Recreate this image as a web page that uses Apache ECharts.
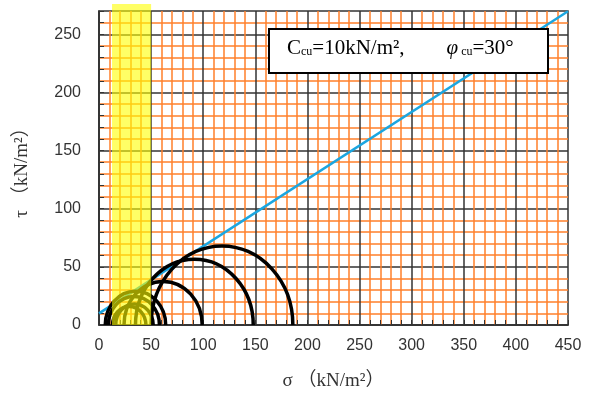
<!DOCTYPE html>
<html>
<head>
<meta charset="utf-8">
<script src="https://cdn.jsdelivr.net/npm/echarts@6/dist/echarts.min.js"></script>
<style>html,body{margin:0;padding:0;background:#fff}#c{width:593px;height:396px}</style>
</head>
<body>
<div id="c"></div>
<script>
// Mohr circles: left foot (sigma3) and right foot (sigma1), kN/m2
var sigma3 = [6, 9, 13, 16, 24, 35, 50];
var sigma1 = [64, 58, 45, 52, 99, 148, 186];
// Failure envelope tau = c + sigma*tan(phi), c=10, phi=30
var envelope = [[0, 10], [450, 269.8]];
// Highlighted sigma band
var bandSigma = [12.5, 50];
var bandTau = [0, 276];
var xTicks = [0, 50, 100, 150, 200, 250, 300, 350, 400, 450];
var yTicks = [0, 50, 100, 150, 200, 250];

var circles = sigma3.map(function (s, i) { return [s, sigma1[i]]; });
var ORANGE = '#ff7f2a';
var gridColors = ['#333', ORANGE, ORANGE, ORANGE, ORANGE];
var NAMEFONT = '"Liberation Serif", "Noto Sans CJK JP", serif';

var chart = echarts.init(document.getElementById('c'), null, {renderer: 'canvas'});
chart.setOption({
  animation: false,
  backgroundColor: '#fff',
  grid: {left: 99, right: 25, top: 11, bottom: 71, show: true, borderColor: '#333', borderWidth: 1.5, backgroundColor: 'transparent'},
  xAxis: {
    type: 'value', min: 0, max: 450, interval: 10,
    name: 'σ （kN/m²）', nameLocation: 'middle', nameGap: 47,
    nameTextStyle: {fontFamily: NAMEFONT, fontSize: 19, color: '#333'},
    axisLine: {show: true, lineStyle: {color: '#333', width: 1.5}},
    axisTick: {show: true, inside: true, length: 5, lineStyle: {color: '#333'}},
    axisLabel: {color: '#333', fontFamily: 'Liberation Sans', fontSize: 16, margin: 13,
      formatter: function (v) { return xTicks.indexOf(v) >= 0 ? String(v) : ''; }},
    splitLine: {show: true, showMaxLine: false, lineStyle: {color: gridColors, width: 1.5}}
  },
  yAxis: {
    type: 'value', min: 0, max: 270, interval: 10,
    name: 'τ （kN/m²）', nameLocation: 'middle', nameGap: 67, nameRotate: 90,
    nameTextStyle: {fontFamily: NAMEFONT, fontSize: 19, color: '#333'},
    axisLine: {show: true, lineStyle: {color: '#333', width: 1.5}},
    axisTick: {show: true, inside: true, length: 5, lineStyle: {color: '#333'}},
    axisLabel: {color: '#333', fontFamily: 'Liberation Sans', fontSize: 16, margin: 18,
      formatter: function (v) { return yTicks.indexOf(v) >= 0 ? String(v) : ''; }},
    splitLine: {show: true, showMaxLine: false, lineStyle: {color: gridColors, width: 1.5}}
  },
  series: [
    {
      type: 'line', data: envelope, symbol: 'none', z: 3,
      lineStyle: {color: '#1ba6e0', width: 2.5}
    },
    {
      type: 'custom', z: 4, data: circles, clip: true,
      renderItem: function (params, api) {
        var a = api.value(0), b = api.value(1);
        var c = (a + b) / 2, r = (b - a) / 2;
        var p = api.coord([c, 0]);
        var s = api.size([r, r]);
        var rx = s[0], ry = s[1];
        return {
          type: 'path',
          shape: {pathData: 'M ' + (p[0] - rx) + ' ' + p[1] + ' A ' + rx + ' ' + ry + ' 0 0 1 ' + (p[0] + rx) + ' ' + p[1]},
          style: {fill: null, stroke: '#000', lineWidth: 3.5}
        };
      }
    },
    {
      type: 'custom', z: 10, data: [[bandSigma[0], bandSigma[1], bandTau[0], bandTau[1]]], clip: false,
      renderItem: function (params, api) {
        var p0 = api.coord([api.value(0), api.value(3)]);
        var p1 = api.coord([api.value(1), api.value(2)]);
        return {
          type: 'rect',
          shape: {x: p0[0], y: p0[1], width: p1[0] - p0[0], height: p1[1] - p0[1]},
          style: {fill: 'rgba(255,255,0,0.6)'}
        };
      }
    }
  ],
  graphic: [
    {type: 'rect', left: 268, top: 28, z: 20, shape: {width: 279, height: 44},
      style: {fill: '#fff', stroke: '#000', lineWidth: 2}},
    {type: 'text', left: 287, top: 38, z: 21,
      style: {
        text: '{b|C}{s|cu}{b|=10kN/m²,}{sp|}{i|φ}{s| cu}{b|=30°}',
        rich: {
          b: {fontFamily: 'Liberation Serif', fontSize: 21, fill: '#000', height: 24, verticalAlign: 'bottom'},
          i: {fontFamily: 'Liberation Serif', fontSize: 21, fontStyle: 'italic', fill: '#000', height: 24, verticalAlign: 'bottom'},
          s: {fontFamily: 'Liberation Serif', fontSize: 12, fill: '#000', height: 24, verticalAlign: 'bottom', padding: [0, 0, -3, 0]},
          sp: {width: 42}
        }
      }}
  ]
});
</script>
</body>
</html>
